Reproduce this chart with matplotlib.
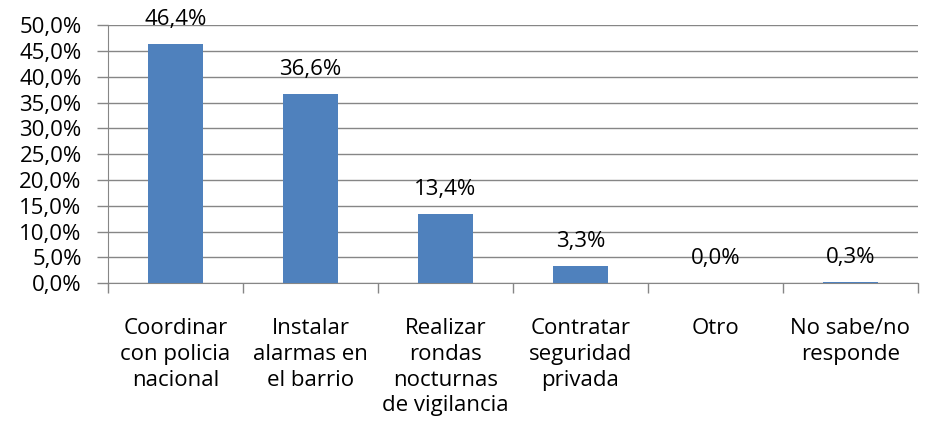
import matplotlib
matplotlib.use("Agg")
import matplotlib.pyplot as plt
from matplotlib.ticker import FuncFormatter, FixedLocator

# Data
categories = [
    "Coordinar\ncon policia\nnacional",
    "Instalar\nalarmas en\nel barrio",
    "Realizar\nrondas\nnocturnas\nde vigilancia",
    "Contratar\nseguridad\nprivada",
    "Otro",
    "No sabe/no\nresponde",
]
values = [46.4, 36.6, 13.4, 3.3, 0.0, 0.3]
y_ticks = [0, 5, 10, 15, 20, 25, 30, 35, 40, 45, 50]

plt.rcParams['font.family'] = ['Open Sans', 'DejaVu Sans']
FS = 16

fig = plt.figure(figsize=(9.25, 4.41), dpi=100)
ax = fig.add_axes([0.1168, 0.358, 0.8756, 0.585])

x = list(range(len(categories)))
bars = ax.bar(x, values, width=0.41, color='#4F81BD', zorder=3)

ax.set_xlim(-0.5, len(categories) - 0.5)
ax.set_ylim(0, 50)
ax.yaxis.set_major_locator(FixedLocator(y_ticks))
ax.yaxis.set_major_formatter(FuncFormatter(lambda v, p: f"{v:.1f}%".replace('.', ',')))
ax.grid(axis='y', color='#868686', linewidth=1, zorder=0)

# category labels placed as text; ticks on category boundaries
ax.set_xticks([i - 0.5 for i in range(len(categories) + 1)])
ax.set_xticklabels([])
ax.tick_params(axis='x', length=7, color='#868686', width=1)
ax.tick_params(axis='y', length=8, color='#868686', width=1, labelsize=FS, pad=11)
for i, c in enumerate(categories):
    ax.text(i, -0.135, c, transform=ax.get_xaxis_transform(), ha='center', va='top',
            fontsize=FS, linespacing=1.3)

for spine in ['top', 'right']:
    ax.spines[spine].set_visible(False)
ax.spines['left'].set_color('#868686')
ax.spines['bottom'].set_color('#868686')

for b, v in zip(bars, values):
    ax.annotate(f"{v:.1f}%".replace('.', ','), (b.get_x() + b.get_width() / 2, v),
                xytext=(0, 10), textcoords='offset points', ha='center', va='bottom',
                fontsize=FS, zorder=5)

fig.savefig("out.png", dpi=100)
